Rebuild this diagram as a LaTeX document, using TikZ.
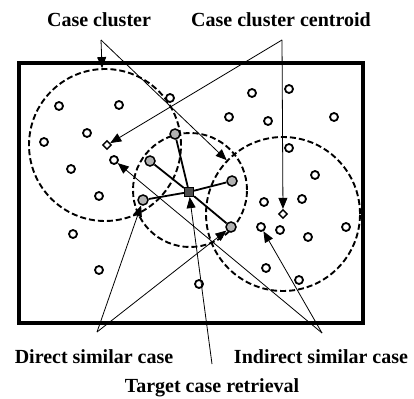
\documentclass[tikz,border=0pt]{standalone}
\usepackage{fontspec}
\setmainfont{Liberation Serif}
\usetikzlibrary{arrows.meta,shapes.geometric}

\begin{document}
\begin{tikzpicture}[
  x=1pt, y=-1pt,
  font=\fontsize{20}{24}\selectfont\bfseries,
  lbl/.style={anchor=base, inner sep=0pt},
  cluster/.style={draw, circle, dash pattern=on 6pt off 3pt, line width=1.9pt, inner sep=0pt},
  case/.style={draw, circle, fill=white, line width=1.8pt, minimum size=8pt, inner sep=0pt},
  simcase/.style={case, fill=black!30, line width=1.5pt, minimum size=10pt},
  centroid/.style={draw, diamond, fill=white, line width=1.4pt, minimum size=9pt, inner sep=0pt},
  target/.style={draw, rectangle, fill=black!70, line width=1.2pt, minimum size=9pt, inner sep=0pt},
  arr/.style={-{Triangle[length=11pt,width=9pt]}, line width=0.8pt},
  spoke/.style={line width=1.8pt}
]
\useasboundingbox (0,0) rectangle (414,398);
\draw[line width=3.2pt] (19,63) rectangle (363,323);
\node[cluster, minimum size=152pt] (left) at (105,145) {};
\node[cluster, minimum size=114pt] (mid) at (190,190) {};
\node[cluster, minimum size=154pt] (right) at (283,214) {};
\foreach \x/\y in {59/106, 119/105, 87/133, 44/142, 71/169, 99/196, 170/98,
  73/234, 99/270, 199/284, 252/93, 289/89, 229/117, 268/121, 334/117,
  289/148, 315/175, 264/202, 302/199, 280/230, 308/237, 346/227, 266/268, 299/280}
  \node[case] at (\x,\y) {};
\node[case] (i1) at (114,160) {};
\node[case] (i2) at (261,227) {};
\node[centroid] (lcent) at (107,145) {};
\node[centroid] (rcent) at (283,214) {};
\node[simcase] (d1) at (175,134) {};
\node[simcase] (d2) at (150,161) {};
\node[simcase] (d3) at (232,181) {};
\node[simcase] (d4) at (143,200) {};
\node[simcase] (d5) at (231,227) {};
\node[target] (tc) at (189,192) {};
\foreach \n in {d1,d2,d3,d4,d5}
  \draw[spoke] (tc) -- (\n);
\node[lbl] (cclbl) at (99,27) {Case cluster};
\node[lbl] (ccclbl) at (281,27) {Case cluster centroid};
\node[lbl] (dsclbl) at (94,363) {Direct similar case};
\node[lbl] (isclbl) at (321,363) {Indirect similar case};
\node[lbl] (tcrlbl) at (212,392) {Target case retrieval};
\coordinate (ccfork) at (101,40);
\coordinate (cccfork) at (282,40);
\coordinate (dscfork) at (97,332);
\coordinate (iscfork) at (322,333);
\coordinate (tcrfork) at (212,364);
\draw[arr] (ccfork) -- (left);
\draw[arr] (ccfork) -- (right);
\draw[arr] (cccfork) -- (lcent);
\draw[arr] (cccfork) -- (rcent);
\draw[arr] (dscfork) -- (d4);
\draw[arr] (dscfork) -- (d5);
\draw[arr] (tcrfork) -- (tc);
\draw[arr] (iscfork) -- (i1);
\draw[arr] (iscfork) -- (i2);
\end{tikzpicture}
\end{document}
